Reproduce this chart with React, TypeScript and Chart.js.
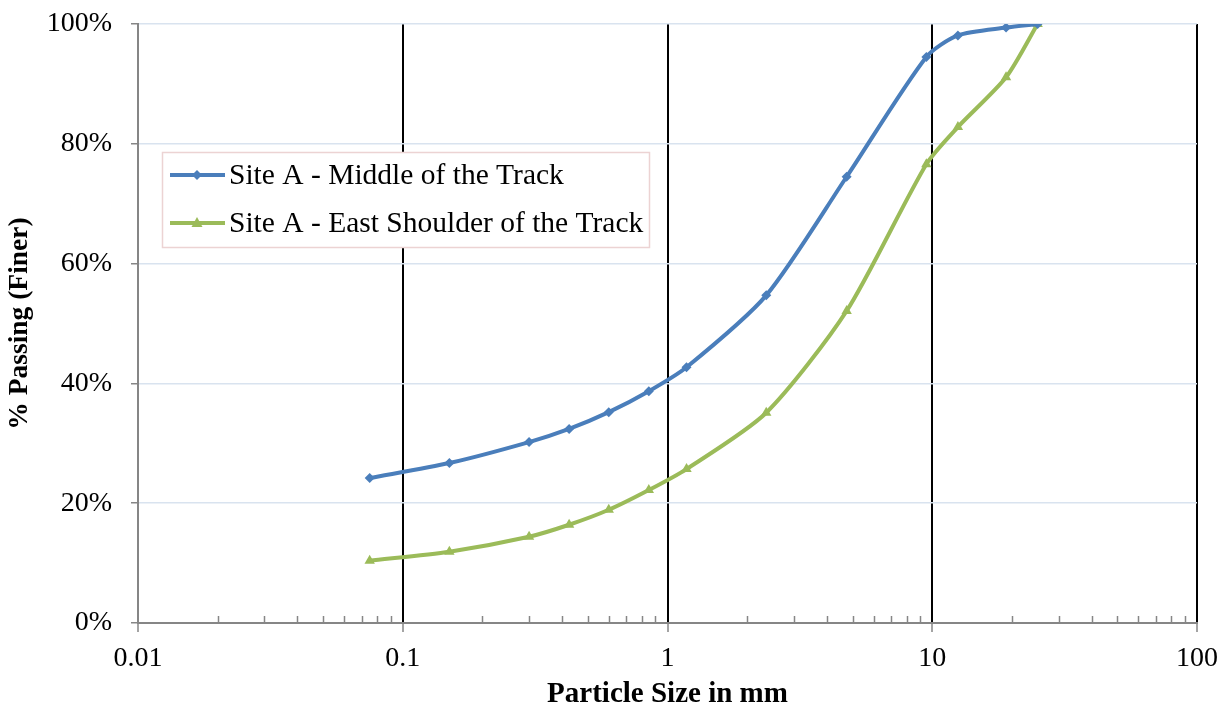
import React, { useEffect, useRef } from "react";
import { Chart, registerables } from "chart.js";

Chart.register(...registerables);

const sieveSizes = [0.075, 0.15, 0.3, 0.425, 0.6, 0.85, 1.18, 2.36, 4.75, 9.5, 12.5, 19, 25];
const middleTrack = [24.2, 26.7, 30.2, 32.4, 35.2, 38.7, 42.7, 54.7, 74.5, 94.5, 98.1, 99.4, 100];
const eastShoulder = [10.4, 11.9, 14.4, 16.4, 18.9, 22.2, 25.7, 35.1, 52.1, 76.6, 82.8, 91.1, 100];
const xTickValues = [0.01, 0.1, 1, 10, 100];
const seriesNames = ["Site A - Middle of the Track", "Site A - East Shoulder of the Track"];

const BLUE = "#4a7ebb";
const GREEN = "#9bbb59";
const AXIS_GRAY = "#868686";
const FONT = "'Liberation Serif', 'Times New Roman', serif";

const minorTicks = {
  id: "minorTicks",
  afterDraw(chart: any) {
    const x = chart.scales.x;
    const ctx = chart.ctx;
    const bottom = chart.chartArea.bottom;
    ctx.save();
    ctx.strokeStyle = AXIS_GRAY;
    ctx.lineWidth = 1.5;
    for (let i = 0; i < xTickValues.length - 1; i++) {
      const d = xTickValues[i];
      for (let k = 2; k <= 9; k++) {
        const px = Math.round(x.getPixelForValue(d * k)) + 0.5;
        ctx.beginPath();
        ctx.moveTo(px, bottom);
        ctx.lineTo(px, bottom - 7);
        ctx.stroke();
      }
    }
    ctx.restore();
  },
};

const boxLegend = {
  id: "boxLegend",
  afterDraw(chart: any) {
    const ctx = chart.ctx;
    const left = 162, top = 152, w = 487, h = 95;
    ctx.save();
    ctx.fillStyle = "#ffffff";
    ctx.fillRect(left, top, w, h);
    ctx.strokeStyle = "#ecd3d3";
    ctx.lineWidth = 1.5;
    ctx.strokeRect(left + 0.5, top + 0.5, w, h);
    const rows = [
      { name: seriesNames[0], color: BLUE, style: "diamond", y: 175 },
      { name: seriesNames[1], color: GREEN, style: "triangle", y: 223 },
    ];
    rows.forEach((r) => {
      ctx.strokeStyle = r.color;
      ctx.fillStyle = r.color;
      ctx.lineWidth = 4;
      ctx.beginPath();
      ctx.moveTo(170, r.y);
      ctx.lineTo(225, r.y);
      ctx.stroke();
      const cx = 197;
      ctx.beginPath();
      if (r.style === "diamond") {
        ctx.moveTo(cx, r.y - 5);
        ctx.lineTo(cx + 5, r.y);
        ctx.lineTo(cx, r.y + 5);
        ctx.lineTo(cx - 5, r.y);
      } else {
        ctx.moveTo(cx, r.y - 6);
        ctx.lineTo(cx + 5.5, r.y + 4);
        ctx.lineTo(cx - 5.5, r.y + 4);
      }
      ctx.closePath();
      ctx.fill();
      ctx.fillStyle = "#000000";
      ctx.font = `29.5px ${FONT}`;
      ctx.textAlign = "left";
      ctx.textBaseline = "middle";
      ctx.fillText(r.name, 229, r.y + 1);
    });
    ctx.restore();
  },
};

export default function App() {
  const ref = useRef<HTMLCanvasElement | null>(null);
  useEffect(() => {
    if (!ref.current) return;
    const chart = new Chart(ref.current, {
      type: "line",
      data: {
        datasets: [
          {
            label: seriesNames[0],
            data: sieveSizes.map((s, i) => ({ x: s, y: middleTrack[i] })),
            borderColor: BLUE,
            backgroundColor: BLUE,
            borderWidth: 4,
            pointStyle: "rectRot",
            pointRadius: 5,
            pointBorderWidth: 0,
            tension: 0.25,
          },
          {
            label: seriesNames[1],
            data: sieveSizes.map((s, i) => ({ x: s, y: eastShoulder[i] })),
            borderColor: GREEN,
            backgroundColor: GREEN,
            borderWidth: 4,
            pointStyle: "triangle",
            pointRadius: 6,
            pointBorderWidth: 0,
            tension: 0.25,
          },
        ],
      },
      options: {
        responsive: false,
        animation: false,
        layout: { padding: { top: 24, right: 34, left: 0, bottom: 0 } },
        plugins: { legend: { display: false }, tooltip: { enabled: false } },
        scales: {
          x: {
            type: "logarithmic",
            min: 0.01,
            max: 100,
            afterBuildTicks: (scale: any) => {
              scale.ticks = xTickValues.map((v) => ({ value: v, major: true }));
            },
            afterFit: (scale: any) => {
              scale.height = 86;
              scale.paddingLeft = 0;
              scale.paddingRight = 0;
            },
            ticks: {
              autoSkip: false,
              maxRotation: 0,
              padding: 10,
              color: "#000000",
              font: { family: FONT, size: 28 },
              callback: (v: any) => String(v),
            },
            grid: {
              color: (c: any) => (c.index === 0 ? "rgba(0,0,0,0)" : "#000000"),
              lineWidth: 2,
              tickColor: AXIS_GRAY,
              tickLength: 9,
              tickWidth: 1.5,
            },
            border: { color: AXIS_GRAY, width: 2 },
            title: {
              display: true,
              text: "Particle Size in mm",
              color: "#000000",
              font: { family: FONT, size: 29, weight: "bold", lineHeight: 1 },
              padding: { top: 0, bottom: 0 },
            },
          },
          y: {
            min: 0,
            max: 100,
            afterFit: (scale: any) => {
              scale.width = 138;
              scale.paddingTop = 0;
              scale.paddingBottom = 0;
            },
            ticks: {
              stepSize: 20,
              padding: 19,
              color: "#000000",
              font: { family: FONT, size: 28 },
              callback: (v: any) => v + "%",
            },
            grid: {
              color: "#d9e3ef",
              lineWidth: 1.5,
              tickColor: AXIS_GRAY,
              tickLength: 7,
              tickWidth: 1.5,
            },
            border: { color: AXIS_GRAY, width: 2 },
            title: {
              display: true,
              text: "% Passing (Finer)",
              color: "#000000",
              font: { family: FONT, size: 27.5, weight: "bold" },
              padding: { top: 3, bottom: 0 },
            },
          },
        },
      },
      plugins: [minorTicks, boxLegend],
    });
    return () => chart.destroy();
  }, []);
  return (
    <div style={{ position: "fixed", left: 0, top: 0, width: 1231, height: 709, background: "#fff" }}>
      <canvas ref={ref} width={1231} height={709} />
    </div>
  );
}
